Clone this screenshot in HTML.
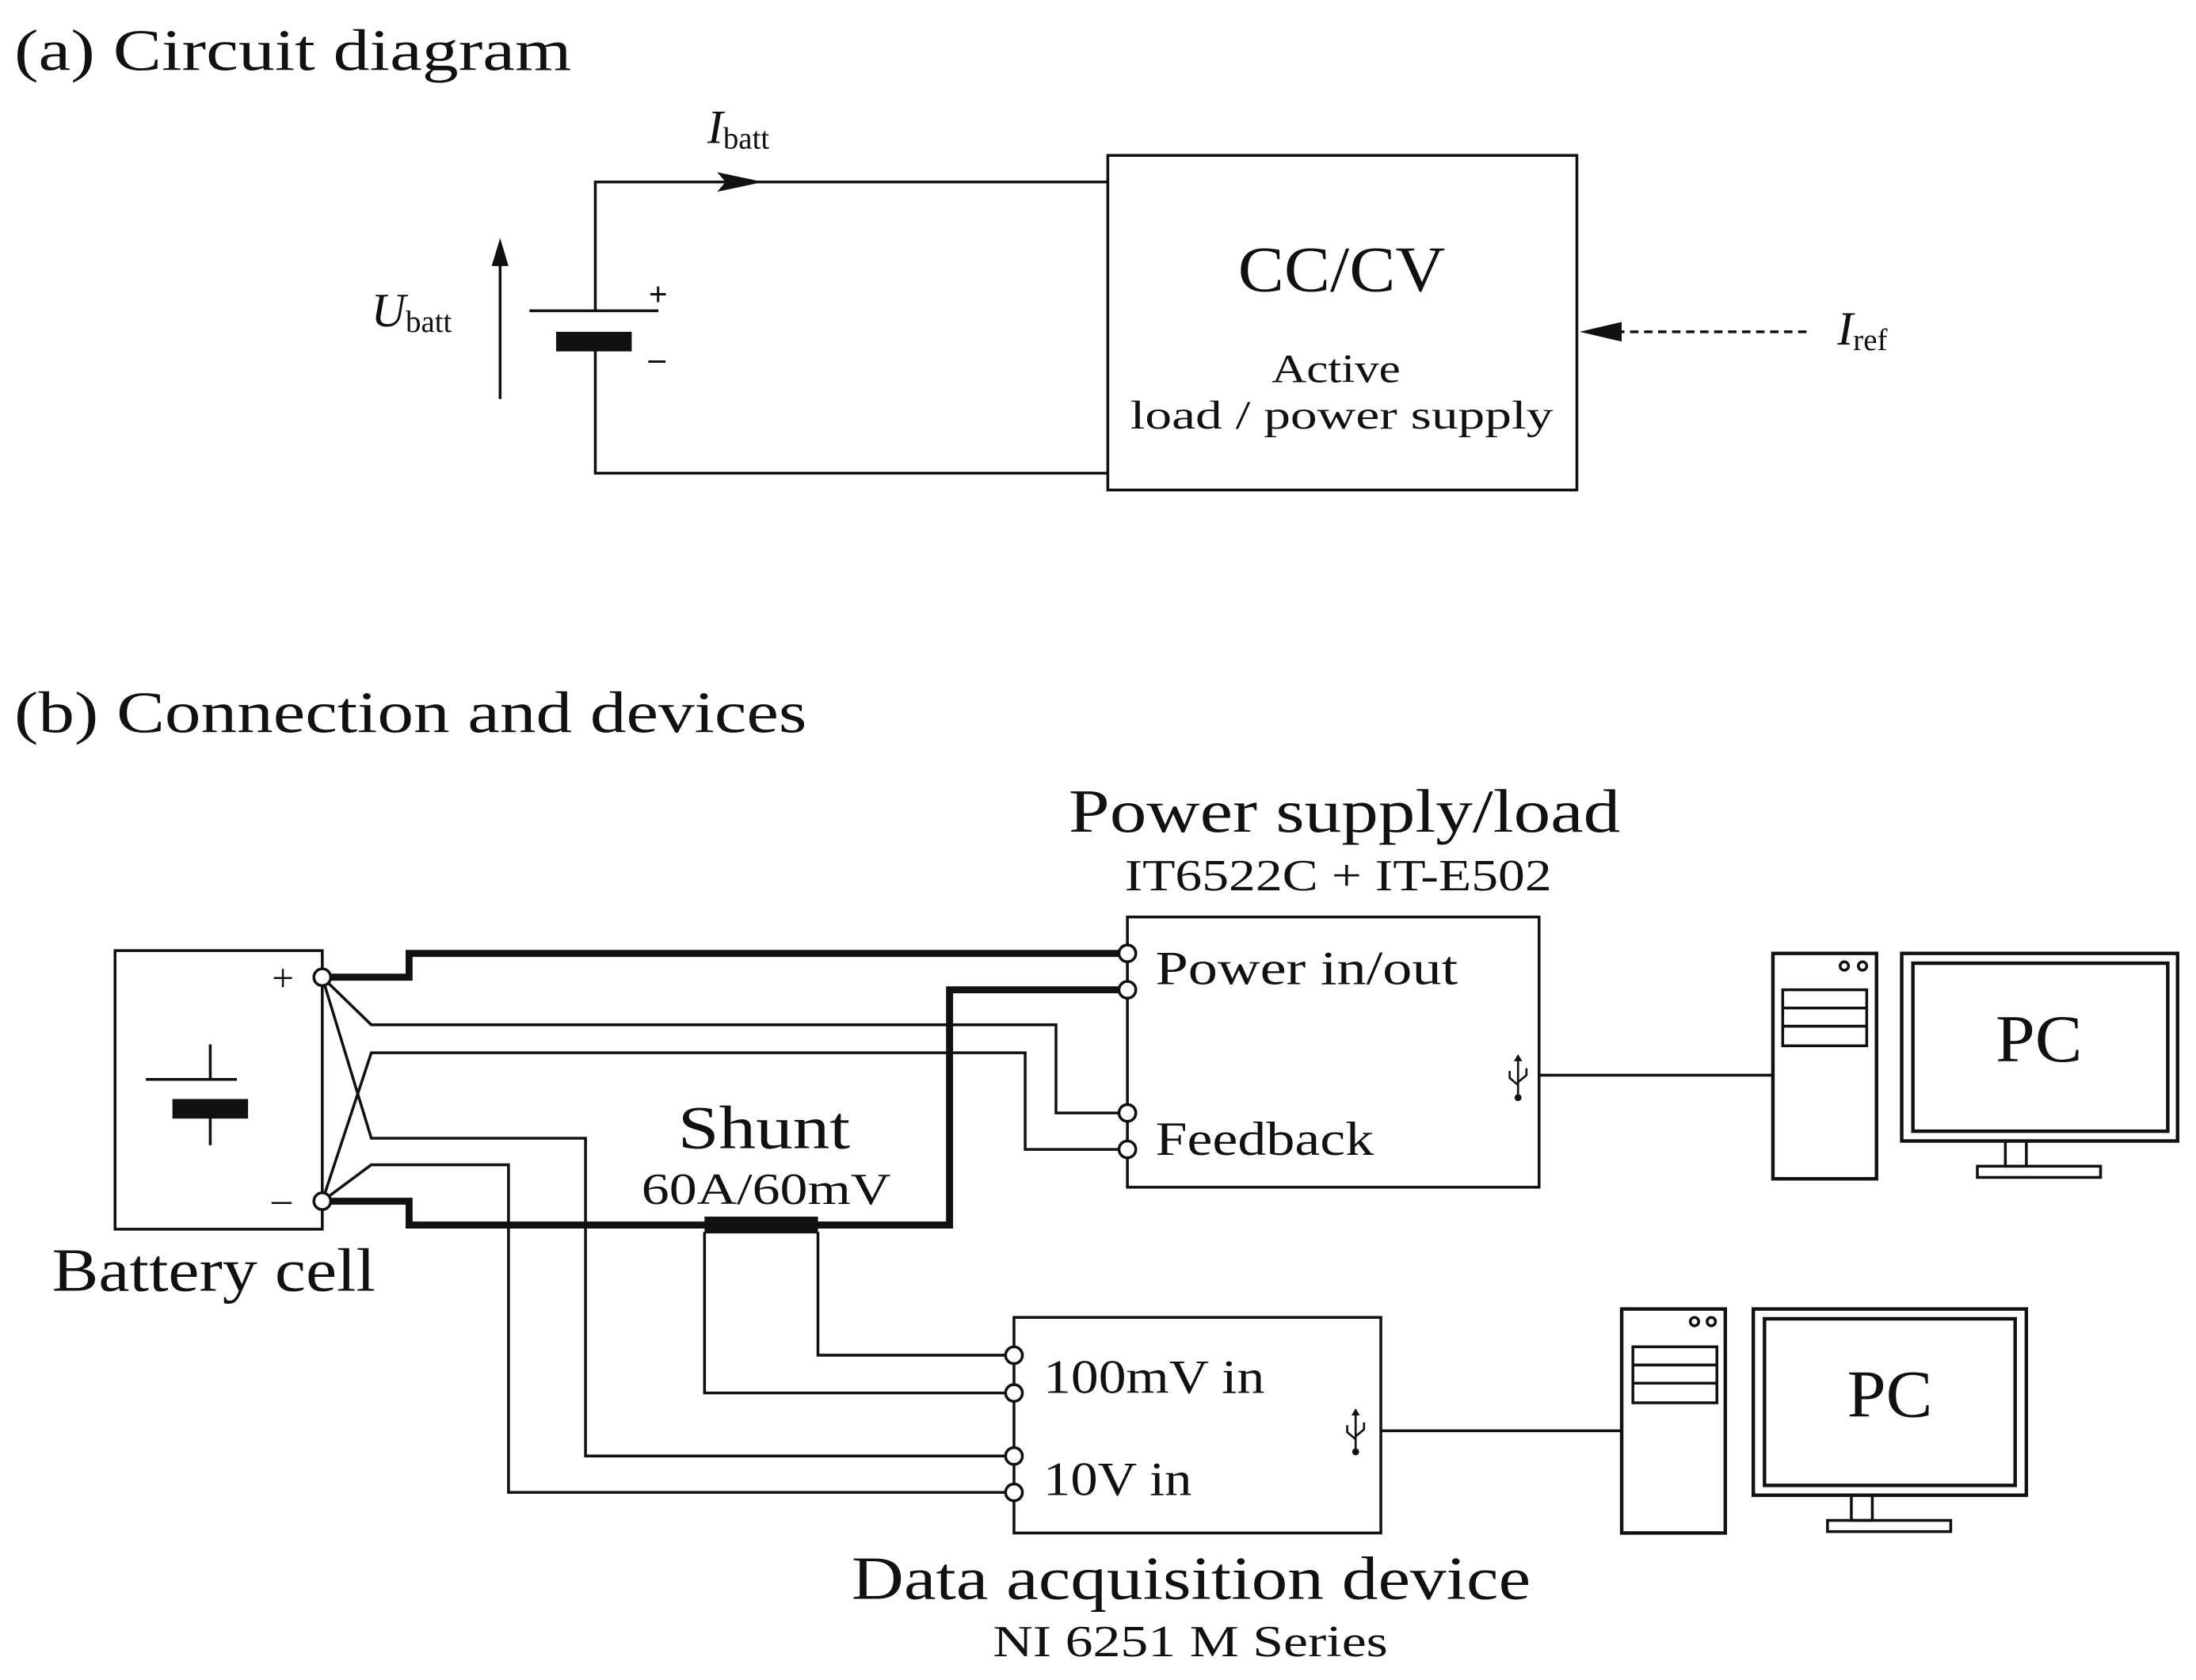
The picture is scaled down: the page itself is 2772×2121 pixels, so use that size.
<!DOCTYPE html>
<html><head><meta charset="utf-8"><style>
html,body{margin:0;padding:0;background:#fff}
svg{display:block}
text{font-family:"Liberation Serif",serif;fill:#111}
</style></head><body>
<svg width="2772" height="2121" viewBox="0 0 1568 1200" xmlns="http://www.w3.org/2000/svg">
<g stroke="#111" fill="none" stroke-width="2">
<polyline points="791,130 425,130 425,222"/>
<polyline points="425,250 425,338 791,338"/>
<rect x="791" y="111" width="335" height="239"/>
<line x1="378" y1="222" x2="470" y2="222"/>
<rect x="398" y="238" width="52" height="12" fill="#111"/>
<line x1="357" y1="285" x2="357" y2="185"/>
<line x1="1290" y1="237" x2="1145" y2="237" stroke-dasharray="6,4"/>
<rect x="82" y="679" width="148" height="199"/>
<line x1="104" y1="771" x2="169" y2="771"/>
<line x1="150" y1="746" x2="150" y2="771"/>
<rect x="124" y="786" width="52" height="12" fill="#111"/>
<line x1="150" y1="798" x2="150" y2="818"/>
<polyline points="236,698 292,698 292,681 800,681" stroke-width="5"/>
<polyline points="236,858 292,858 292,875 678,875 678,707 800,707" stroke-width="5"/>
<rect x="503" y="869" width="81" height="12" fill="#111" stroke="none"/>
<polyline points="230,698 265,732 754,732 754,795 800,795"/>
<polyline points="230,858 265,752 732,752 732,821 800,821"/>
<polyline points="230,698 265,813 418,813 418,1040 719,1040"/>
<polyline points="230,858 265,832 363,832 363,1066 719,1066"/>
<polyline points="503,880 503,995 719,995"/>
<polyline points="584,880 584,968 719,968"/>
<rect x="805" y="655" width="294" height="193"/>
<line x1="1099" y1="768" x2="1266" y2="768"/>
<rect x="724" y="941" width="262" height="154"/>
<line x1="986" y1="1022" x2="1158" y2="1022"/>
<rect x="1266" y="681" width="74" height="161" stroke-width="2.5"/>
<rect x="1273" y="707" width="60" height="40"/>
<line x1="1273" y1="720" x2="1333" y2="720"/><line x1="1273" y1="733" x2="1333" y2="733"/>
<circle cx="1317" cy="690" r="3"/><circle cx="1330" cy="690" r="3"/>
<rect x="1358" y="681" width="197" height="134" stroke-width="2.5"/>
<rect x="1366" y="688" width="182" height="120" stroke-width="2.5"/>
<polyline points="1432,815 1432,833 1447,833 1447,815"/>
<rect x="1412" y="833" width="88" height="8"/>
<rect x="1158" y="935" width="74" height="160" stroke-width="2.5"/>
<rect x="1166" y="962" width="60" height="40"/>
<line x1="1166" y1="975" x2="1226" y2="975"/><line x1="1166" y1="988" x2="1226" y2="988"/>
<circle cx="1210" cy="944" r="3"/><circle cx="1222" cy="944" r="3"/>
<rect x="1252" y="935" width="195" height="133" stroke-width="2.5"/>
<rect x="1260" y="942" width="179" height="119" stroke-width="2.5"/>
<polyline points="1322,1068 1322,1086 1337,1086 1337,1068"/>
<rect x="1305" y="1086" width="88" height="8"/>
</g>
<g fill="#111">
<polygon points="545,130 512,123 518,130 512,137"/>
<polygon points="357,170 351,190 363,190"/>
<polygon points="1128,237 1158,230 1158,244"/>
</g>
<g fill="#fff" stroke="#111" stroke-width="2">
<circle cx="230" cy="698" r="6"/><circle cx="230" cy="858" r="6"/>
<circle cx="805" cy="681" r="6"/><circle cx="805" cy="707" r="6"/>
<circle cx="805" cy="795" r="6"/><circle cx="805" cy="821" r="6"/>
<circle cx="724" cy="968" r="6"/><circle cx="724" cy="995" r="6"/>
<circle cx="724" cy="1040" r="6"/><circle cx="724" cy="1066" r="6"/>
</g>
<g stroke="#111" stroke-width="1.5" fill="none">
<line x1="1084" y1="756" x2="1084" y2="784"/><path d="M1078,765 v5 l6,5 M1090,763 v5 l-6,5"/>
<line x1="968" y1="1009" x2="968" y2="1037"/><path d="M962,1018 v5 l6,5 M974,1016 v5 l-6,5"/>
</g>
<g fill="#111"><circle cx="1084" cy="784" r="2.5"/><circle cx="968" cy="1037" r="2.5"/><polygon points="1084,753 1081,758 1087,758"/><polygon points="968,1006 965,1011 971,1011"/></g>
<text x="10" y="50" font-size="42" textLength="398" lengthAdjust="spacingAndGlyphs">(a) Circuit diagram</text>
<text x="505" y="102" font-size="34" font-style="italic">I<tspan font-size="22" font-style="normal" dy="4">batt</tspan></text>
<text x="265" y="233" font-size="34" font-style="italic">U<tspan font-size="22" font-style="normal" dy="4">batt</tspan></text>
<text x="1312" y="246" font-size="34" font-style="italic">I<tspan font-size="22" font-style="normal" dy="4">ref</tspan></text>
<text x="463" y="218" font-size="24" font-weight="bold">+</text>
<text x="463" y="264" font-size="24" font-weight="bold">–</text>
<text x="884" y="208" font-size="46" textLength="148" lengthAdjust="spacingAndGlyphs">CC/CV</text>
<text x="908" y="273" font-size="29" textLength="92" lengthAdjust="spacingAndGlyphs">Active</text>
<text x="807" y="306" font-size="29" textLength="302" lengthAdjust="spacingAndGlyphs">load / power  supply</text>
<text x="10" y="523" font-size="42" textLength="566" lengthAdjust="spacingAndGlyphs">(b) Connection and devices</text>
<text x="763" y="594" font-size="44" textLength="394" lengthAdjust="spacingAndGlyphs">Power supply/load</text>
<text x="803" y="636" font-size="32" textLength="305" lengthAdjust="spacingAndGlyphs">IT6522C + IT-E502</text>
<text x="825" y="703" font-size="34" textLength="216" lengthAdjust="spacingAndGlyphs">Power in/out</text>
<text x="825" y="825" font-size="34" textLength="156" lengthAdjust="spacingAndGlyphs">Feedback</text>
<text x="194" y="708" font-size="28">+</text>
<text x="194" y="866" font-size="28">–</text>
<text x="37" y="922" font-size="44" textLength="231" lengthAdjust="spacingAndGlyphs">Battery cell</text>
<text x="484" y="820" font-size="44" textLength="123" lengthAdjust="spacingAndGlyphs">Shunt</text>
<text x="458" y="860" font-size="32" textLength="178" lengthAdjust="spacingAndGlyphs">60A/60mV</text>
<text x="745" y="995" font-size="34" textLength="158" lengthAdjust="spacingAndGlyphs">100mV in</text>
<text x="745" y="1068" font-size="34" textLength="106" lengthAdjust="spacingAndGlyphs">10V in</text>
<text x="608" y="1142" font-size="44" textLength="485" lengthAdjust="spacingAndGlyphs">Data acquisition device</text>
<text x="709" y="1183" font-size="32" textLength="282" lengthAdjust="spacingAndGlyphs">NI 6251 M Series</text>
<text x="1425" y="758" font-size="48" textLength="62" lengthAdjust="spacingAndGlyphs">PC</text>
<text x="1319" y="1012" font-size="48" textLength="61" lengthAdjust="spacingAndGlyphs">PC</text>
</svg>
</body></html>
